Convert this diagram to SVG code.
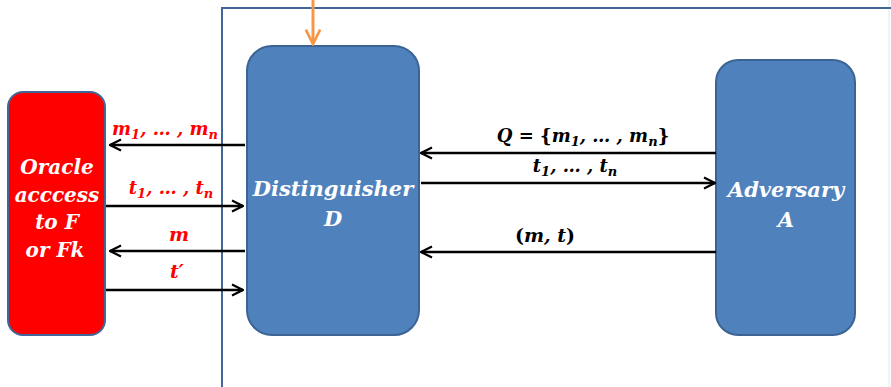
<svg xmlns="http://www.w3.org/2000/svg" width="891" height="387" viewBox="0 0 891 387">
<defs>
<style>
.box{fill:#4f81bd;stroke:#3b6494;stroke-width:2}
.lbl{font-family:"DejaVu Serif","Liberation Serif",serif;font-weight:bold;font-style:italic;fill:#fff;font-size:21px;text-anchor:middle}
.or{font-size:20px}
.ln{stroke:#000;stroke-width:2.5;fill:none;marker-end:url(#ah)}
.m{font-family:"DejaVu Serif","Liberation Serif",serif;font-weight:bold;font-style:italic;font-size:18px;text-anchor:middle}
.big{font-size:19px}
.r{fill:#ff0000}
.k{fill:#000}
.up{font-style:normal}
</style>
<marker id="ah" viewBox="0 0 10 10" refX="9" refY="5" markerWidth="5.5" markerHeight="5.5" orient="auto" markerUnits="strokeWidth">
<path d="M1,1 L9,5 L1,9" fill="none" stroke="#000" stroke-width="1.6"/>
</marker>
<marker id="oh" viewBox="0 0 10 10" refX="9" refY="5" markerWidth="6" markerHeight="6" orient="auto" markerUnits="strokeWidth">
<path d="M1,1 L9,5 L1,9" fill="none" stroke="#f79646" stroke-width="1.5"/>
</marker>
</defs>
<rect width="891" height="387" fill="#fff"/>
<line x1="889" y1="0" x2="889" y2="387" stroke="#e6e8ee" stroke-width="1"/>
<g id="frame">
<path d="M222,387 L222,8 L891,8" fill="none" stroke="#41679a" stroke-width="2"/>
</g>
<g id="oracle">
<rect x="8" y="92" width="97" height="243" rx="15" fill="#ff0000" stroke="#41679a" stroke-width="2"/>
<text class="lbl or" x="57" y="174">Oracle</text>
<text class="lbl or" x="57" y="202">acccess</text>
<text class="lbl or" x="57" y="229">to F</text>
<text class="lbl or" x="55" y="257">or Fk</text>
</g>
<g id="distinguisher">
<rect class="box" x="247" y="46" width="172" height="289" rx="25"/>
<text class="lbl" x="333" y="196">Distinguisher</text>
<text class="lbl" x="333" y="226">D</text>
</g>
<g id="adversary">
<rect class="box" x="716" y="60" width="139" height="275" rx="22"/>
<text class="lbl" x="786" y="197">Adversary</text>
<text class="lbl" x="786" y="227">A</text>
</g>
<g id="connectors">
<line x1="313" y1="0" x2="313" y2="44" stroke="#f79646" stroke-width="3" marker-end="url(#oh)"/>
<line class="ln" x1="245" y1="145" x2="110" y2="145"/>
<line class="ln" x1="106" y1="206" x2="243" y2="206"/>
<line class="ln" x1="245" y1="251" x2="110" y2="251"/>
<line class="ln" x1="106" y1="290" x2="243" y2="290"/>
<line class="ln" x1="716" y1="153" x2="421" y2="153"/>
<line class="ln" x1="421" y1="183" x2="715" y2="183"/>
<line class="ln" x1="716" y1="252" x2="421" y2="252"/>
</g>
<g id="labels">
<text class="m r" x="165" y="135">m<tspan font-size="13" dy="4">1</tspan><tspan dy="-4">, … , m</tspan><tspan font-size="13" dy="4">n</tspan></text>
<text class="m r" x="171" y="194">t<tspan font-size="13" dy="4">1</tspan><tspan dy="-4">, … , t</tspan><tspan font-size="13" dy="4">n</tspan></text>
<text class="m r big" x="179" y="241">m</text>
<text class="m r big" x="177" y="278">t′</text>
<text class="m k" x="583" y="142">Q <tspan class="up">=</tspan> <tspan class="up">{</tspan>m<tspan font-size="13" dy="4">1</tspan><tspan dy="-4">, … , m</tspan><tspan font-size="13" dy="4">n</tspan><tspan dy="-4" class="up">}</tspan></text>
<text class="m k" x="575" y="172">t<tspan font-size="13" dy="4">1</tspan><tspan dy="-4">, … , t</tspan><tspan font-size="13" dy="4">n</tspan></text>
<text class="m k big" x="545" y="242"><tspan class="up">(</tspan>m, t<tspan class="up">)</tspan></text>
</g>
</svg>
